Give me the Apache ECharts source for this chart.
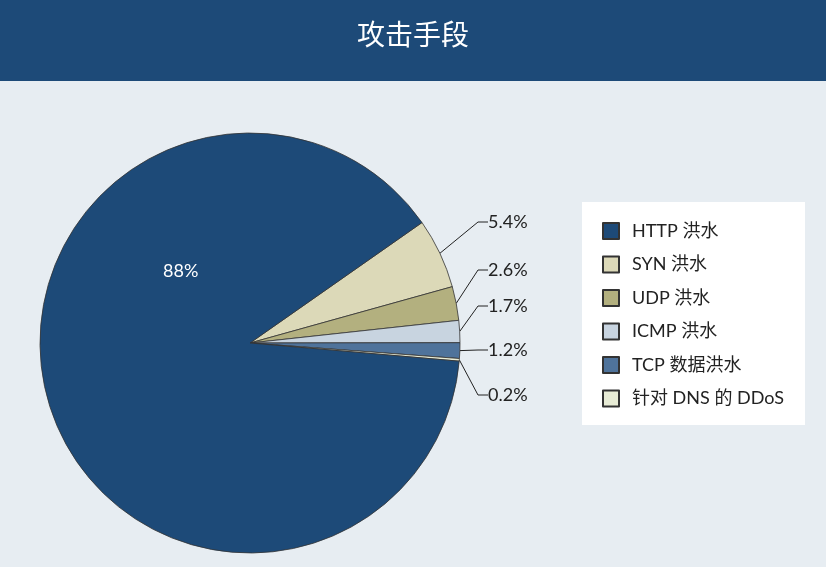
<!DOCTYPE html><html><head><meta charset="utf-8"><script src="https://cdn.jsdelivr.net/npm/echarts@6/dist/echarts.min.js"></script>
<style>body{margin:0}#c{width:826px;height:567px}</style></head><body><div id="c"></div><script>
const names=['SYN 洪水','UDP 洪水','ICMP 洪水','TCP 数据洪水','针对 DNS 的 DDoS','HTTP 洪水'];
const values=[5.4,2.6,1.7,1.2,0.2,88.9];
const labels=['5.4%','2.6%','1.7%','1.2%','0.2%','88%'];
const legendOrder=['HTTP 洪水','SYN 洪水','UDP 洪水','ICMP 洪水','TCP 数据洪水','针对 DNS 的 DDoS'];
const colors=['#dcd9b8','#b3b07f','#c8d4e0','#4f739b','#e8ecd6','#1d4a78'];
const labelY=[222,270,306,350,395];
const font='"Lato","Noto Sans CJK SC",sans-serif';
const c=echarts.init(document.getElementById('c'));
c.setOption({backgroundColor:'#e7edf2',animation:false,
graphic:[{type:'rect',shape:{x:0,y:0,width:826,height:81},style:{fill:'#1d4a78'}},
{type:'text',left:'center',top:20,style:{text:'攻击手段',fill:'#fff',font:'28px "Noto Sans CJK SC"'}},
{type:'rect',shape:{x:582,y:202,width:223,height:223},style:{fill:'#fff'}}],
legend:{data:legendOrder,orient:'vertical',left:597,top:217,itemGap:15.5,icon:'rect',itemWidth:16,itemHeight:16,textStyle:{fontSize:18,fontFamily:font,color:'#222',padding:[0,0,0,8]}},
series:[{type:'pie',center:[250,343],radius:[0,210],startAngle:35,clockwise:true,
itemStyle:{borderColor:'#333',borderWidth:0.8},
label:{fontSize:18,fontFamily:font,color:'#222',formatter:p=>labels[p.dataIndex]},
labelLine:{length:22,length2:10,lineStyle:{color:'#222'}},
labelLayout:p=>p.dataIndex<5?{x:488,y:labelY[p.dataIndex],align:'left',verticalAlign:'middle'}:{},
data:values.map((v,i)=>({name:names[i],value:v,itemStyle:{color:colors[i]},
 ...(i==5?{label:{position:'inside',color:'#fff',offset:[35,-100]}}:{})}))}]});
</script></body></html>
